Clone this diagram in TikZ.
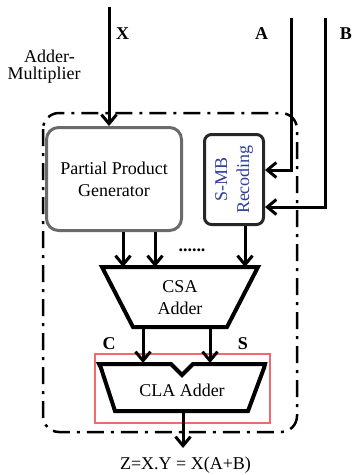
\documentclass[tikz,border=0pt]{standalone}
\usepackage{fontspec}
\setmainfont{Liberation Serif}
\usetikzlibrary{arrows.meta}
\definecolor{ppgray}{HTML}{6A6A6A}
\definecolor{smbblue}{HTML}{2E3E9A}
\definecolor{boxred}{HTML}{F06A6A}
\begin{document}
\begin{tikzpicture}[x=1pt,y=-1pt,
  txt/.style={font=\fontsize{18}{22}\selectfont, inner sep=0pt, align=center},
  lbl/.style={font=\fontsize{18}{20}\selectfont\bfseries, inner sep=0pt},
  wire/.style={line width=3pt},
  arr/.style={line width=3pt, -{Straight Barb[length=9pt,width=15pt]}},
  thickshape/.style={line width=4pt, line join=miter},
  ppgbox/.style={draw=ppgray, line width=3pt, rounded corners=12pt, minimum width=135pt, minimum height=103pt},
  smbbox/.style={draw=black!85, line width=3pt, rounded corners=7pt, rotate=90, minimum width=90pt, minimum height=59pt, text=smbblue},
  dashbox/.style={line width=2.5pt, dash pattern=on 17pt off 7pt on 3pt off 7pt, rounded corners=16pt},
  redbox/.style={draw=boxred, line width=1.3pt}
]
\useasboundingbox (0,0) rectangle (352,475);

% outer dash-dot frame
\draw[dashbox] (43,113) rectangle (297,432);

% nodes
\node[ppgbox, txt] (ppg) at (114,179) {Partial Product\\Generator};
\node[smbbox, txt] (smb) at (234,179.5) {S-MB\\Recoding};

% CSA adder
\coordinate (csatl) at (102,267);
\coordinate (csatr) at (258,267);
\coordinate (csabr) at (227,327);
\coordinate (csabl) at (133,327);
\draw[thickshape] (csatl) -- (csatr) -- (csabr) -- (csabl) -- cycle;
\node[txt] (csa) at (180,298) {CSA\\Adder};

% red frame and CLA adder
\draw[redbox] (95,354) rectangle (270,423);
\draw[thickshape] (99,364) -- (171,364) -- (182,375) -- (193,364) -- (265,364)
  -- (264,368) -- (248,411) -- (115,411) -- (101,368) -- cycle;
\node[txt] (cla) at (182,390) {CLA Adder};

% inputs
\coordinate (xin) at (109,7);
\coordinate (ain) at (291,18);
\coordinate (bin) at (325,18);
\coordinate (abend) at (291,170);
\coordinate (bbend) at (325,207);
\draw[arr] (xin) -- (xin |- ppg.north);
\draw[arr] (ain) -- (abend) -- (smb.south |- abend);
\draw[arr] (bin) -- (bbend) -- (smb.south |- bbend);

% PPG / SMB to CSA
\coordinate (p1) at (123,0);
\coordinate (p2) at (155,0);
\coordinate (p3) at (245,0);
\draw[arr] (p1 |- ppg.south) -- (p1 |- csatl);
\draw[arr] (p2 |- ppg.south) -- (p2 |- csatl);
\draw[arr] (p3 |- smb.west) -- (p3 |- csatl);
\node[lbl] (dots) at (192,250) {......};

% CSA to CLA
\coordinate (c1) at (143,0);
\coordinate (c2) at (210,0);
\coordinate (clatop) at (0,363);
\draw[arr] (c1 |- csabl) -- (c1 |- clatop);
\draw[arr] (c2 |- csabl) -- (c2 |- clatop);

% output
\coordinate (outs) at (183,411);
\coordinate (oute) at (183,448);
\draw[arr] (outs) -- (oute);

% labels
\node[lbl] (lx) at (122.5,34) {X};
\node[lbl] (la) at (261.5,34) {A};
\node[lbl] (lb) at (346,34) {B};
\node[lbl] (lc) at (109,344) {C};
\node[lbl] (ls) at (243,344) {S};
\node[txt] (am1) at (49.5,56) {Adder-};
\node[txt] (am2) at (44,75) {Multiplier};
\node[txt] (res) at (185.5,465) {Z=X.Y = X(A+B)};
\end{tikzpicture}
\end{document}
